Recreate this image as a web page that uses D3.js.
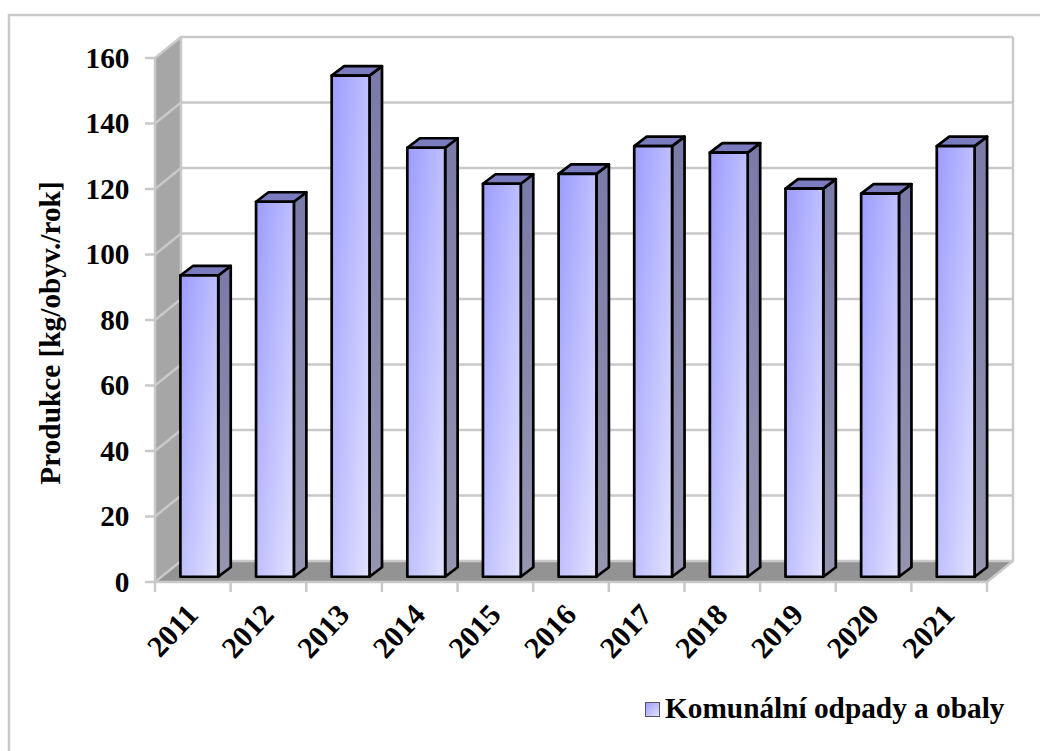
<!DOCTYPE html>
<html>
<head>
<meta charset="utf-8">
<script src="https://cdn.jsdelivr.net/npm/d3@7"></script>
<style>
  html, body { margin: 0; padding: 0; background: #fff; overflow: hidden; }
  text { font-family: "Liberation Serif", serif; font-weight: bold; fill: #000; }
</style>
</head>
<body>
<svg id="chart" width="1040" height="751" style="display:block"></svg>
<script>
const years = ["2011", "2012", "2013", "2014", "2015", "2016", "2017", "2018", "2019", "2020", "2021"];
const production = [92, 114.5, 153, 131, 120, 123, 131.5, 129.5, 118.5, 117, 131.5];
const yTicks = [0, 20, 40, 60, 80, 100, 120, 140, 160];
const yTitle = "Produkce [kg/obyv./rok]";
const seriesName = "Komunální odpady a obaly";

var svg = d3.select("#chart");
const wallColor = "#a6a6a6";
const floorColor = "#939393";
const gridColor = "#c9c9c9";
const fontSize = 29.3;

// 3d offset of the back wall, bars sit in the middle of the floor
const depthX = 26;
const depthY = -21;

var x = d3.scaleBand().domain(years).range([155, 987]).paddingInner(0.5).paddingOuter(0.25);
var y = d3.scaleLinear().domain([0, 160]).range([582, 58]);

var x0 = x.range()[0], x1 = x.range()[1];
var y0 = y(0), yTop = y(160);

var path = (pts) => "M" + pts.map(p => p.join(",")).join("L") + "Z";

// outer frame, only its top and left edge fall inside the picture
svg.append("path")
  .attr("d", "M9,751V15H1040")
  .attr("fill", "none").attr("stroke", "#c9c9c9").attr("stroke-width", 2.5);

// gradient for the bar fronts
var grad = svg.append("defs").append("linearGradient")
  .attr("id", "barFront")
  .attr("x1", 0).attr("y1", 0).attr("x2", 1).attr("y2", 1);
grad.append("stop").attr("offset", "0%").attr("stop-color", "#9c9cff");
grad.append("stop").attr("offset", "100%").attr("stop-color", "#e2e2ff");

var sideGrad = svg.select("defs").append("linearGradient")
  .attr("id", "barSide")
  .attr("x1", 0).attr("y1", 0).attr("x2", 0).attr("y2", 1);
sideGrad.append("stop").attr("offset", "0%").attr("stop-color", "#7a7aa8");
sideGrad.append("stop").attr("offset", "100%").attr("stop-color", "#9595b0");

// walls
svg.append("path")
  .attr("d", path([[x0, y0], [x0 + depthX, y0 + depthY], [x0 + depthX, yTop + depthY], [x0, yTop]]))
  .attr("fill", wallColor);
svg.append("path")
  .attr("d", path([[x0, y0], [x1, y0], [x1 + depthX, y0 + depthY], [x0 + depthX, y0 + depthY]]))
  .attr("fill", floorColor);

// gridlines: on the side wall and the back wall
var grid = svg.append("g").attr("fill", "none").attr("stroke", gridColor).attr("stroke-width", 2.5);
yTicks.forEach((t) => {
  grid.append("path").attr("d", "M" + (x0 - 10) + "," + y(t) + "H" + x0 + "L" + (x0 + depthX) + "," + (y(t) + depthY) + "H" + (x1 + depthX));
});
grid.append("path").attr("d", "M" + x0 + "," + y0 + "V" + yTop);
grid.append("path").attr("d", "M" + (x0 + depthX) + "," + (yTop + depthY) + "V" + (y0 + depthY));
grid.append("path").attr("d", "M" + (x1 + depthX) + "," + (yTop + depthY) + "V" + (y0 + depthY) + "L" + x1 + "," + y0 + "H" + x0);
x.domain().forEach((d, i) => {
  var tx = x0 + i * x.step();
  grid.append("path").attr("d", "M" + tx + "," + y0 + "v10");
});
grid.append("path").attr("d", "M" + x1 + "," + y0 + "v10");

// y axis labels
svg.append("g").selectAll("text").data(yTicks).join("text")
  .attr("x", 129.5)
  .attr("y", d => y(d))
  .attr("dy", "0.34em")
  .attr("text-anchor", "end")
  .attr("font-size", fontSize)
  .text(d => d);

// bars, drawn from the scales with a half depth offset
var barDx = 12.5, barDy = -9.5;
var shift = { x: depthX / 4, y: depthY / 4 };
var bars = svg.append("g").attr("stroke", "#000").attr("stroke-width", 2.7).attr("stroke-linejoin", "round");

years.forEach((year, i) => {
  var left = x(year) + shift.x;
  var right = left + x.bandwidth();
  var bottom = y0 + shift.y;
  var top = y(production[i]) + shift.y;
  bars.append("path")
    .attr("d", path([[right, top], [right + barDx, top + barDy], [right + barDx, bottom + barDy], [right, bottom]]))
    .attr("fill", "url(#barSide)");
  bars.append("path")
    .attr("d", path([[left, top], [left + barDx, top + barDy], [right + barDx, top + barDy], [right, top]]))
    .attr("fill", "#7b7bc0");
  bars.append("rect")
    .attr("x", left).attr("y", top)
    .attr("width", x.bandwidth()).attr("height", bottom - top)
    .attr("fill", "url(#barFront)");
});

// x axis labels, rotated 45 degrees
svg.append("g").selectAll("text").data(years).join("text")
  .attr("text-anchor", "end")
  .attr("font-size", fontSize + 0.7)
  .attr("transform", d => "translate(" + (x(d) + x.bandwidth() / 2 + 7) + ",616)rotate(-47)")
  .text(d => d);

// y axis title
svg.append("text")
  .attr("transform", "translate(60,333)rotate(-90)")
  .attr("text-anchor", "middle")
  .attr("font-size", fontSize)
  .text(yTitle);

// legend
svg.append("rect")
  .attr("x", 645.5).attr("y", 702.5).attr("width", 14).attr("height", 14)
  .attr("fill", "url(#barFront)").attr("stroke", "#555").attr("stroke-width", 1);
svg.append("text")
  .attr("x", 665).attr("y", 718)
  .attr("font-size", fontSize)
  .text(seriesName);
</script>
</body>
</html>
